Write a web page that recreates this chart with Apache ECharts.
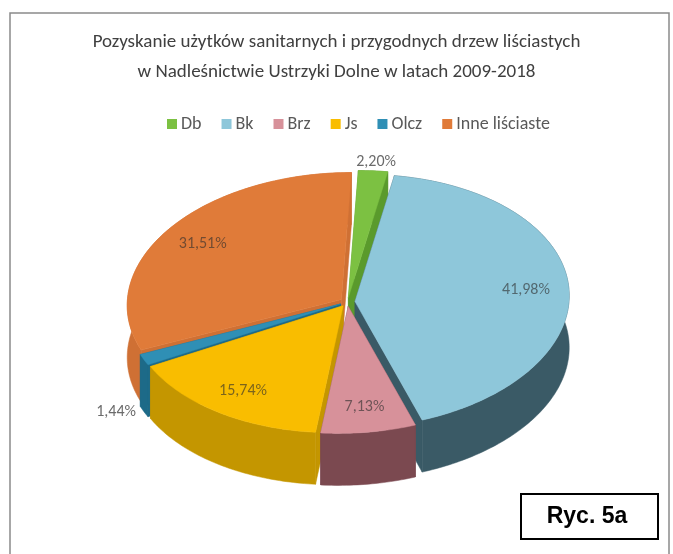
<!DOCTYPE html>
<html>
<head>
<meta charset="utf-8">
<script src="https://cdn.jsdelivr.net/npm/echarts@6/dist/echarts.min.js"></script>
<style>
  html, body { margin: 0; padding: 0; background: #ffffff; }
  #chart { width: 673px; height: 554px; }
</style>
</head>
<body>
<div id="chart"></div>
<script>
// Udział gatunków liściastych w pozyskaniu (%)
const categories = ['Db', 'Bk', 'Brz', 'Js', 'Olcz', 'Inne liściaste'];
const shares = [2.20, 41.98, 7.13, 15.74, 1.44, 31.51];
const titleLines = [
  'Pozyskanie użytków sanitarnych i przygodnych drzew liściastych',
  'w Nadleśnictwie Ustrzyki Dolne w latach 2009-2018'
];
const figureTag = 'Ryc. 5a';

// Slice colours: top face / side walls
const topColors  = ['#7cc142', '#8ec7da', '#d7919a', '#f9bd00', '#2f8fb5', '#e07b39'];
const sideColors = ['#5a9a2c', '#3a5a66', '#7b4950', '#c49600', '#1d6a88', '#cf7034'];

// Projection of the tilted 3D pie
const CX = 347.5, CY = 302, RX = 214, RY = 127, SKEW = 10, DEPTH = 52, EXPLODE = 0.035;
const FONT = "Carlito, 'Liberation Sans Narrow', Lato, sans-serif";

const total = shares.reduce((a, b) => a + b, 0);
const starts = [];
shares.reduce((acc, v, i) => { starts[i] = acc; return acc + v; }, 0);

function project(u, v, z) {
  return [CX + RX * u + SKEW * v, CY - RY * v + z];
}
function fmt(v) {
  return v.toFixed(2).replace('.', ',') + '%';
}

// Draw order: slices nearer to the viewer paint their walls later
const order = shares.map((v, i) => {
  const mid = (starts[i] + v / 2) / total * Math.PI * 2;
  return { i, key: -Math.cos(mid) };
}).sort((a, b) => a.key - b.key);
const rank = [];
order.forEach((o, r) => { rank[o.i] = r; });

function renderItem(params, api) {
  const i = params.dataIndex;
  const val = api.value(0);
  const a0 = starts[i] / total * Math.PI * 2;
  const a1 = (starts[i] + val) / total * Math.PI * 2;
  const mid = (a0 + a1) / 2;
  const ou = EXPLODE * Math.sin(mid), ov = EXPLODE * Math.cos(mid);
  const n = Math.max(2, Math.ceil((a1 - a0) / (Math.PI / 180)));
  const rimTop = [], rimBot = [];
  for (let k = 0; k <= n; k++) {
    const a = a0 + (a1 - a0) * k / n;
    rimTop.push(project(ou + Math.sin(a), ov + Math.cos(a), 0));
    rimBot.push(project(ou + Math.sin(a), ov + Math.cos(a), DEPTH));
  }
  const cTop = project(ou, ov, 0), cBot = project(ou, ov, DEPTH);
  const children = [];
  const sideZ = 10 + rank[i];

  // radial walls
  [[rimTop[0], rimBot[0]], [rimTop[n], rimBot[n]]].forEach(([t, b]) => {
    children.push({
      type: 'polygon', z2: sideZ,
      shape: { points: [cTop, t, b, cBot] },
      style: { fill: sideColors[i], stroke: sideColors[i], lineWidth: 0.5 }
    });
  });
  // outer wall
  children.push({
    type: 'polygon', z2: sideZ,
    shape: { points: rimTop.concat(rimBot.slice().reverse()) },
    style: { fill: sideColors[i], stroke: sideColors[i], lineWidth: 0.5 }
  });
  // top face
  children.push({
    type: 'polygon', z2: 100 + rank[i],
    shape: { points: [cTop].concat(rimTop) },
    style: { fill: topColors[i], stroke: topColors[i], lineWidth: 0.5 }
  });

  // value label
  const inside = val >= 5;
  let lx, ly, align = 'center', color;
  if (inside) {
    const p = project(ou + 0.8 * Math.sin(mid), ov + 0.8 * Math.cos(mid), 0);
    lx = p[0]; ly = p[1];
    color = 'rgba(45,45,45,0.62)';
  } else {
    const su = Math.sin(mid), sv = Math.cos(mid);
    const p = project(ou + su, ov + sv, 0);
    lx = p[0]; ly = p[1];
    if (sv < 0) ly += DEPTH; else ly -= 9;
    if (su < -0.5) { align = 'right'; lx -= 8; }
    else if (su > 0.5) { align = 'left'; lx += 8; }
    else { lx += 3; }
    color = '#6b6b6b';
  }
  children.push({
    type: 'text', z2: 300,
    style: {
      text: fmt(val), x: lx, y: ly, align: align, verticalAlign: 'middle',
      fill: color, font: '16px ' + FONT
    }
  });
  return { type: 'group', children: children };
}

const chart = echarts.init(document.getElementById('chart'), null, { renderer: 'canvas' });
chart.setOption({
  backgroundColor: '#ffffff',
  animation: false,
  title: {
    text: titleLines.join('\n'),
    left: 'center',
    top: 22,
    textStyle: { fontFamily: FONT, fontSize: 19, fontWeight: 'normal', color: '#404040', lineHeight: 30 }
  },
  legend: {
    data: categories,
    left: 162,
    top: 110,
    icon: 'rect',
    itemWidth: 10,
    itemHeight: 10,
    itemGap: 20,
    selectedMode: false,
    textStyle: { fontFamily: FONT, fontSize: 18, color: '#595959', padding: [0, 0, 0, -1] }
  },
  graphic: [
    {
      type: 'rect', z: -1,
      shape: { x: 10, y: 13, width: 659, height: 560 },
      style: { fill: 'none', stroke: '#8a8a8a', lineWidth: 1.5 }
    },
    {
      type: 'rect',
      shape: { x: 521, y: 494, width: 137, height: 45 },
      style: { fill: '#ffffff', stroke: '#000000', lineWidth: 2 }
    },
    {
      type: 'text',
      style: {
        text: figureTag, x: 587, y: 517, align: 'center', verticalAlign: 'middle',
        font: 'bold 23px "Liberation Sans", Arial, sans-serif', fill: '#000000'
      }
    }
  ],
  series: [
    {
      // carries legend entries only
      type: 'pie',
      silent: true,
      center: [-500, -500],
      radius: 1,
      label: { show: false },
      labelLine: { show: false },
      data: categories.map((c, i) => ({ name: c, value: shares[i], itemStyle: { color: topColors[i] } }))
    },
    {
      type: 'custom',
      coordinateSystem: 'none',
      silent: true,
      renderItem: renderItem,
      data: shares.map(v => [v])
    }
  ]
});
</script>
</body>
</html>
